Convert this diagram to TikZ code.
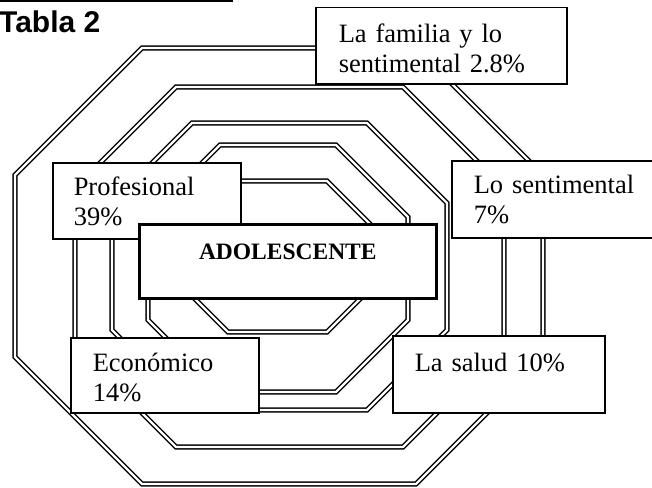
\documentclass[tikz,border=0pt]{standalone}
\usepackage{fontspec}
\setmainfont{Liberation Serif}
\setsansfont{Liberation Sans}
\usetikzlibrary{positioning}

\begin{document}
\begin{tikzpicture}[x=1pt,y=-1pt,
    ring/.style={double,double distance=2.3pt,line width=1.4pt},
% Label box style
    tag/.style={rectangle,draw,fill=white,line width=1.5pt,anchor=north west,
		inner ysep=0pt,inner xsep=22pt,align=left,
		font=\fontsize{26.5}{30}\selectfont},
    core/.style={rectangle,draw,fill=white,line width=2.6pt,anchor=north west,
		inner ysep=0pt,inner xsep=10pt,align=center,
		font=\fontsize{23.5}{28}\selectfont\bfseries}
    ]
   \useasboundingbox (0,0) rectangle (652,487);
%%% Header
   \draw [line width=3pt] (0,1) -- (233,1);
   \node [anchor=base west,inner sep=0pt,font=\sffamily\bfseries\fontsize{30}{36}\selectfont]
	(tabla) at (-1,33) {Tabla 2};
%%% Octagons, outer to inner
   \draw [ring] (142,48) -- (416,48) -- (543,175) -- (543,357) -- (416,484)
	-- (142,484) -- (15,357) -- (15,175) -- cycle;
   \draw [ring] (176,87) -- (403,87) -- (504,188) -- (504,346) -- (403,447)
	-- (176,447) -- (75,346) -- (75,188) -- cycle;
   \draw [ring] (192,123) -- (367,123) -- (447,203) -- (447,330) -- (367,410)
	-- (192,410) -- (112,330) -- (112,203) -- cycle;
   \draw [ring] (220,145) -- (336,145) -- (408,217) -- (408,320) -- (336,392)
	-- (220,392) -- (148,320) -- (148,217) -- cycle;
   \draw [ring] (228,181) -- (327,181) -- (372,226) -- (372,287) -- (327,332)
	-- (228,332) -- (183,287) -- (183,226) -- cycle;
%%% Boxes
   \node [tag,text width=146pt,text height=33pt,text depth=43pt,inner xsep=21pt]
	(profes) at (52,162) {Profesional\\39\%};
   \node [core,text width=277pt,text height=35pt,text depth=39pt]
	(adoles) at (138,223) {ADOLESCENTE};
   \node [tag,text width=205pt,text height=35pt,text depth=41pt,inner xsep=23pt]
	(famil) at (315,7) {La familia y lo\\sentimental 2.8\%};
   \node [tag,text width=175pt,text height=33pt,text depth=44pt]
	(sentim) at (451,160) {Lo sentimental\\7\%};
   \node [tag,text width=144pt,text height=34pt,text depth=41pt]
	(econ) at (70,337) {Económico\\14\%};
   \node [tag,text width=168pt,text height=36pt,text depth=41pt]
	(salud) at (392,335) {La salud 10\%};
\end{tikzpicture}
\end{document}
